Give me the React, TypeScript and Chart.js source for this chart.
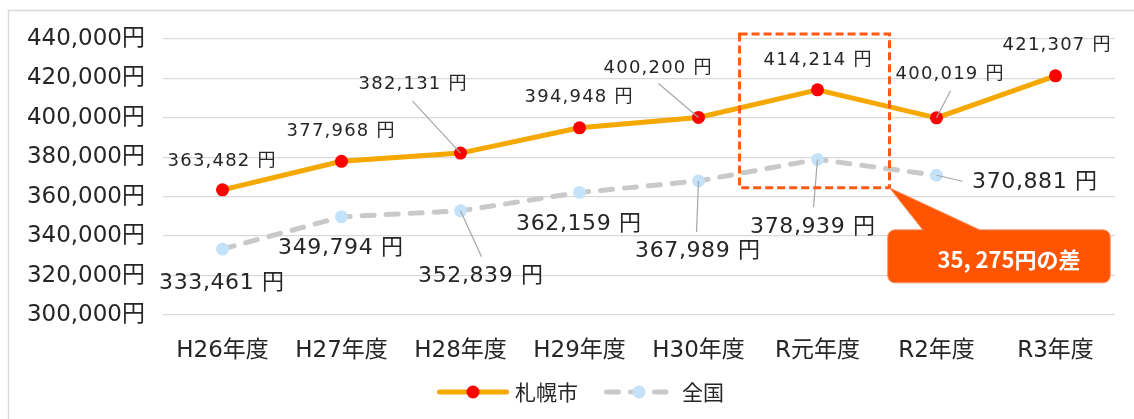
import { useEffect, useRef } from "react";
import { Chart, registerables } from "chart.js";

Chart.register(...registerables);

// ---------- data ----------
const categories = ["H26年度", "H27年度", "H28年度", "H29年度", "H30年度", "R元年度", "R2年度", "R3年度"];
const sapporoValues: (number | null)[] = [363482, 377968, 382131, 394948, 400200, 414214, 400019, 421307];
const nationalValues: (number | null)[] = [333461, 349794, 352839, 362159, 367989, 378939, 370881, null];
const seriesNames = ["札幌市", "全国"];
const yMin = 300000;
const yMax = 440000;
const yStep = 20000;
const highlightIndex = 5;

// ---------- label placement (styling only) ----------
type Place = { dx: number; dy: number; lx?: number; ly?: number };
const sapporoPlacement: Place[] = [
  { dx: -1, dy: -29 },
  { dx: -1, dy: -30 },
  { dx: -48, dy: -69, lx: -48, ly: -52 },
  { dx: -1, dy: -30 },
  { dx: -41, dy: -49, lx: -40, ly: -34 },
  { dx: 0, dy: -30 },
  { dx: 13, dy: -43, lx: 14, ly: -27 },
  { dx: 1, dy: -31 },
];
const nationalPlacement: Place[] = [
  { dx: -1, dy: 34 },
  { dx: -1, dy: 31 },
  { dx: 20, dy: 65, lx: 21, ly: 46 },
  { dx: -1, dy: 32 },
  { dx: -1, dy: 70, lx: -2, ly: 51 },
  { dx: -5, dy: 68, lx: -4, ly: 48 },
  { dx: 98, dy: 7, lx: 26, ly: 6 },
  { dx: 0, dy: 0 },
];

const NUM_FONT = "'DejaVu Sans', 'Noto Sans CJK JP', sans-serif";
const JP_FONT = "'Noto Sans CJK JP', sans-serif";
const ORANGE = "#F5A800";
const RED = "#FF0000";
const GRAY = "#C9C9C9";
const LIGHTBLUE = "#C4E3FA";
const ACCENT = "#FF5A14";
const TEXT = "#262626";

const fmt = (v: number) => v.toLocaleString("en-US");

function drawText(ctx: CanvasRenderingContext2D, text: string, x: number, y: number, size: number, spacing: number) {
  ctx.save();
  ctx.font = `${size}px ${NUM_FONT}`;
  (ctx as any).letterSpacing = `${spacing}px`;
  ctx.textAlign = "center";
  ctx.textBaseline = "middle";
  ctx.fillStyle = TEXT;
  ctx.fillText(text, x + spacing / 2, y);
  ctx.restore();
}

const overlayPlugin = {
  id: "overlay",
  beforeDraw(chart: any) {
    const ctx: CanvasRenderingContext2D = chart.ctx;
    ctx.save();
    ctx.strokeStyle = "#D9D9D9";
    ctx.lineWidth = 1.5;
    ctx.strokeRect(8.5, 10.5, 1200, 500);
    ctx.restore();
  },
  afterDatasetsDraw(chart: any) {
    const ctx: CanvasRenderingContext2D = chart.ctx;
    const xs = chart.scales.x;
    const ys = chart.scales.y;

    const groups = [
      { meta: chart.getDatasetMeta(0), values: sapporoValues, place: sapporoPlacement, size: 18, spacing: 1.2 },
      { meta: chart.getDatasetMeta(1), values: nationalValues, place: nationalPlacement, size: 22, spacing: 0.6 },
    ];
    for (const g of groups) {
      g.values.forEach((v, i) => {
        if (v == null) return;
        const pt = g.meta.data[i];
        const p = g.place[i];
        if (p.lx !== undefined && p.ly !== undefined) {
          ctx.save();
          ctx.strokeStyle = "#A6A6A6";
          ctx.lineWidth = 1.2;
          ctx.beginPath();
          ctx.moveTo(pt.x + p.lx, pt.y + p.ly);
          ctx.lineTo(pt.x, pt.y);
          ctx.stroke();
          ctx.restore();
        }
        drawText(ctx, `${fmt(v)} 円`, pt.x + p.dx, pt.y + p.dy, g.size, g.spacing);
      });
    }

    // highlight rectangle
    const cw = xs.getPixelForValue(1) - xs.getPixelForValue(0);
    const cx = xs.getPixelForValue(highlightIndex);
    const rl = cx - 0.655 * cw;
    const rr = cx + 0.605 * cw;
    const rt = ys.getPixelForValue(442500);
    const rb = ys.getPixelForValue(364500);
    ctx.save();
    ctx.strokeStyle = ACCENT;
    ctx.lineWidth = 3;
    ctx.setLineDash([8, 4]);
    ctx.strokeRect(rl, rt, rr - rl, rb - rt);
    ctx.restore();

    // callout
    const bl = xs.getPixelForValue(6) - 0.41 * cw;
    const br = xs.getPixelForValue(7) + 0.46 * cw;
    const bt = ys.getPixelForValue(343200);
    const bb = ys.getPixelForValue(316300);
    const r = 7;
    ctx.save();
    ctx.beginPath();
    ctx.moveTo(bl + r, bt);
    ctx.lineTo(bl + 35, bt);
    ctx.lineTo(rr, rb);
    ctx.lineTo(bl + 92, bt);
    ctx.lineTo(br - r, bt);
    ctx.arcTo(br, bt, br, bt + r, r);
    ctx.lineTo(br, bb - r);
    ctx.arcTo(br, bb, br - r, bb, r);
    ctx.lineTo(bl + r, bb);
    ctx.arcTo(bl, bb, bl, bb - r, r);
    ctx.lineTo(bl, bt + r);
    ctx.arcTo(bl, bt, bl + r, bt, r);
    ctx.closePath();
    ctx.fillStyle = "#FF5500";
    ctx.fill();
    ctx.strokeStyle = "#F8956A";
    ctx.lineWidth = 1;
    ctx.stroke();
    const s = sapporoValues[highlightIndex] as number;
    const n = nationalValues[highlightIndex] as number;
    const diffText = `${fmt(s - n).replace(",", ", ")}円の差`;
    ctx.font = `bold 22px ${JP_FONT}`;
    ctx.fillStyle = "#FFFFFF";
    ctx.textAlign = "center";
    ctx.textBaseline = "middle";
    ctx.fillText(diffText, (bl + br) / 2 + 10, (bt + bb) / 2 + 3);
    ctx.restore();

    // legend
    const ly = 392;
    ctx.save();
    ctx.font = `21px ${JP_FONT}`;
    ctx.textBaseline = "middle";
    ctx.textAlign = "left";
    ctx.fillStyle = TEXT;
    ctx.lineCap = "round";
    ctx.strokeStyle = ORANGE;
    ctx.lineWidth = 5;
    ctx.beginPath();
    ctx.moveTo(439.5, ly);
    ctx.lineTo(506.5, ly);
    ctx.stroke();
    ctx.fillStyle = RED;
    ctx.beginPath();
    ctx.arc(473, ly, 6.5, 0, Math.PI * 2);
    ctx.fill();
    ctx.fillStyle = TEXT;
    ctx.fillText(seriesNames[0], 515, ly);
    ctx.strokeStyle = GRAY;
    ctx.setLineDash([12, 12]);
    ctx.beginPath();
    ctx.moveTo(606.5, ly);
    ctx.lineTo(666, ly);
    ctx.stroke();
    ctx.setLineDash([]);
    ctx.fillStyle = LIGHTBLUE;
    ctx.beginPath();
    ctx.arc(639, ly, 6.5, 0, Math.PI * 2);
    ctx.fill();
    ctx.fillStyle = TEXT;
    ctx.fillText(seriesNames[1], 682, ly);
    ctx.restore();
  },
};

export default function App() {
  const ref = useRef<HTMLCanvasElement>(null);
  useEffect(() => {
    if (!ref.current) return;
    const chart = new Chart(ref.current, {
      type: "line",
      data: {
        labels: categories,
        datasets: [
          {
            label: seriesNames[0],
            data: sapporoValues,
            borderColor: ORANGE,
            borderWidth: 5,
            borderJoinStyle: "round",
            pointRadius: 6.5,
            pointBackgroundColor: RED,
            pointBorderColor: RED,
            pointBorderWidth: 0,
            tension: 0,
          },
          {
            label: seriesNames[1],
            data: nationalValues,
            borderColor: GRAY,
            borderWidth: 5,
            borderDash: [12, 12],
            borderCapStyle: "round",
            pointRadius: 6.5,
            pointBackgroundColor: LIGHTBLUE,
            pointBorderColor: LIGHTBLUE,
            pointBorderWidth: 0,
            tension: 0,
          },
        ],
      },
      options: {
        animation: false,
        responsive: false,
        layout: { padding: { left: 0, right: 19, top: 39, bottom: 54 } },
        plugins: { legend: { display: false }, tooltip: { enabled: false } },
        scales: {
          x: {
            offset: true,
            grid: { display: false, offset: true },
            border: { display: false },
            ticks: {
              font: { size: 23, family: NUM_FONT },
              color: TEXT,
              padding: 14,
              maxRotation: 0,
              autoSkip: false,
            },
            afterFit(s: any) {
              s.height = 50;
            },
          },
          y: {
            min: yMin,
            max: yMax,
            grid: { color: "#D9D9D9", lineWidth: 1.3, drawTicks: false },
            border: { display: false },
            ticks: {
              stepSize: yStep,
              font: { size: 23, family: NUM_FONT },
              color: TEXT,
              padding: 18,
              callback: (v: any) => `${fmt(Number(v))}円`,
            },
            afterFit(s: any) {
              s.width = 163;
            },
          },
        },
      },
      plugins: [overlayPlugin],
    });
    return () => chart.destroy();
  }, []);
  return (
    <div style={{ position: "fixed", left: 0, top: 0, width: 1134, height: 419, background: "#fff" }}>
      <canvas ref={ref} width={1134} height={419} style={{ display: "block" }} />
    </div>
  );
}
